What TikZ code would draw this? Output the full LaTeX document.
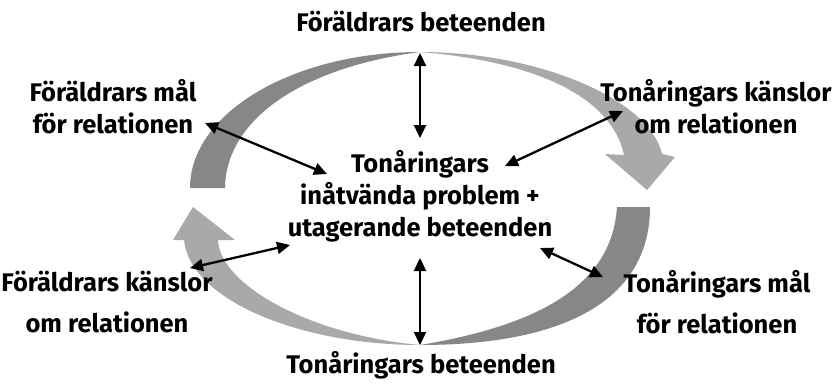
\documentclass[tikz,border=0pt]{standalone}
\usepackage{fontspec}
\setmainfont{Fira Sans}
\usetikzlibrary{arrows.meta}
\definecolor{darkg}{HTML}{878787}
\definecolor{lightg}{HTML}{A9A9A9}
\tikzset{
  lbl/.style={font=\fontsize{25.5}{32}\selectfont\bfseries, align=center, inner sep=0pt},
  lbl2/.style={font=\fontsize{25.5}{41}\selectfont\bfseries, align=center, inner sep=0pt},
  link/.style={line width=2.3pt, {Triangle[length=13pt,width=12pt]}-{Triangle[length=13pt,width=12pt]}}
}
\begin{document}
\begin{tikzpicture}[x=1pt,y=-1pt]
\useasboundingbox (0,0) rectangle (833,384);
% top arc, dark left part
\fill[darkg] (190,188) .. controls (190,113) and (293,52) .. (420,52)
  .. controls (300,68) and (226,120) .. (225,188) -- cycle;
% top arc, light right part with head
\fill[lightg] (420,52) .. controls (540,52) and (650,100) .. (662,154)
  -- (675,157) -- (647,190) -- (605,154) -- (624,155)
  .. controls (610,90) and (520,60) .. (420,52) -- cycle;
% bottom arc, dark right part
\fill[darkg] (650,207) .. controls (650,297) and (570,345) .. (420,345)
  .. controls (540,325) and (612,285) .. (617,207) -- cycle;
% bottom arc, light left part with head
\fill[lightg] (420,345) .. controls (300,345) and (190,300) .. (184,240)
  -- (173,240) -- (193,207) -- (235,240) -- (218,240)
  .. controls (220,285) and (310,335) .. (420,345) -- cycle;
% labels
\node[lbl] (pb) at (421,22) {Föräldrars beteenden};
\node[lbl] (pm) at (113,107) {Föräldrars mål\\för relationen};
\node[lbl] (tk) at (716,107) {Tonåringars känslor\\om relationen};
\node[lbl] (c) at (420,196) {Tonåringars\\inåtvända problem +\\utagerande beteenden};
\node[lbl2] (pk) at (107,302) {Föräldrars känslor\\om relationen};
\node[lbl2] (tm) at (717,302) {Tonåringars mål\\för relationen};
\node[lbl] (tb) at (421,365) {Tonåringars beteenden};
% connector ends
\coordinate (v1a) at (420,53);  \coordinate (v1b) at (420,138);
\coordinate (v2a) at (420,258); \coordinate (v2b) at (420,345);
\coordinate (tla) at (205,123); \coordinate (tlb) at (327,174);
\coordinate (tra) at (505,166); \coordinate (trb) at (623,111);
\coordinate (bla) at (190,268); \coordinate (blb) at (290,245);
\coordinate (bra) at (540,248); \coordinate (brb) at (603,277);
\draw[link] (v1a) -- (v1b);
\draw[link] (v2a) -- (v2b);
\draw[link] (tla) -- (tlb);
\draw[link] (tra) -- (trb);
\draw[link] (bla) -- (blb);
\draw[link] (bra) -- (brb);
\end{tikzpicture}
\end{document}
